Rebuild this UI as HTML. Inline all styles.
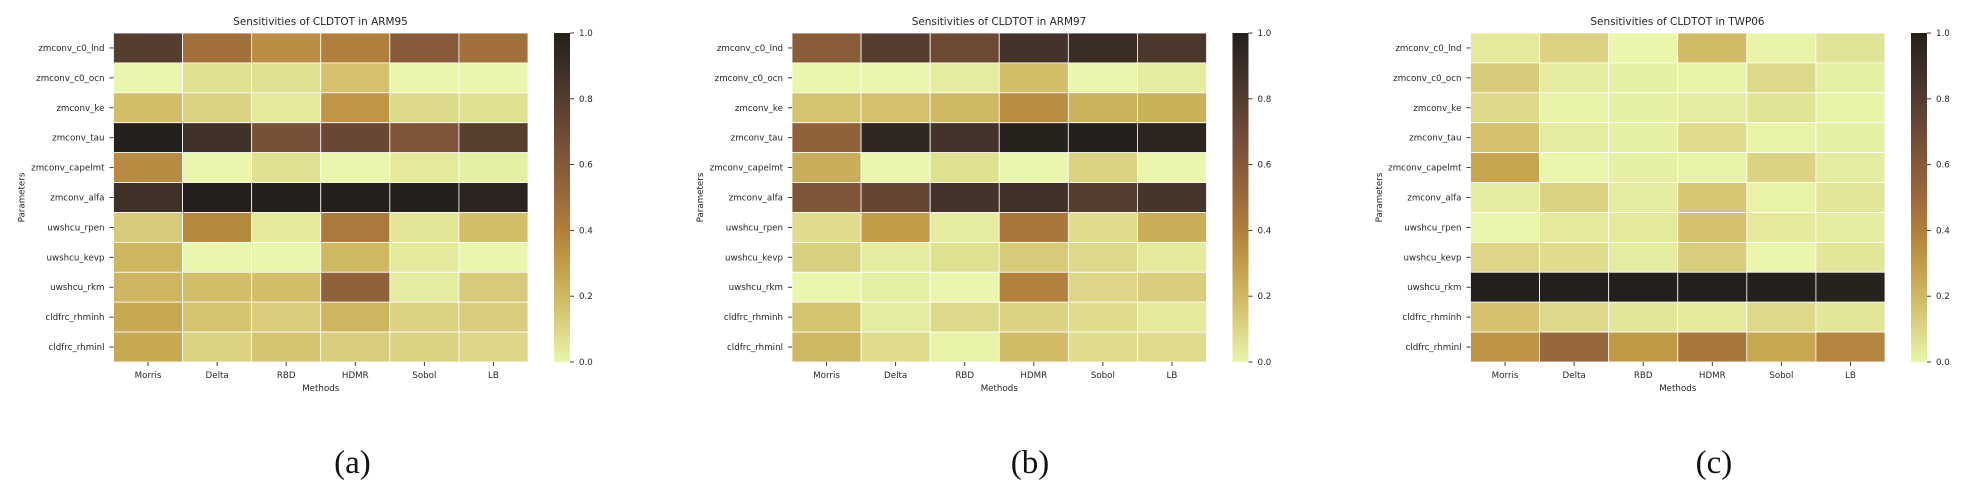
<!DOCTYPE html>
<html lang="en">
<head>
<meta charset="utf-8">
<title>Sensitivities of CLDTOT</title>
<style>
html,body{margin:0;padding:0;background:#fff;width:1968px;height:498px;overflow:hidden}
svg{display:block}
text{font-family:"DejaVu Sans","Liberation Sans",sans-serif;fill:#262626}
.tick{font-size:8.7px}
.axis-label{font-size:8.7px}
.title{font-size:10.45px}
.caption{font-family:"Liberation Serif",serif;font-size:33px;fill:#111}
</style>
</head>
<body>
<svg id="figure" xmlns="http://www.w3.org/2000/svg" width="1968" height="498" viewBox="0 0 1968 498">
  <defs id="defs"></defs>
  <rect width="1968" height="498" fill="#ffffff"/>
  <g id="panel-a">
    <text class="title" x="320.5" y="25" text-anchor="middle">Sensitivities of CLDTOT in ARM95</text>
    <text class="caption" x="352.5" y="473" text-anchor="middle">(a)</text>
  </g>
  <g id="panel-b">
    <text class="title" x="999" y="25" text-anchor="middle">Sensitivities of CLDTOT in ARM97</text>
    <text class="caption" x="1030" y="473" text-anchor="middle">(b)</text>
  </g>
  <g id="panel-c">
    <text class="title" x="1677.5" y="25" text-anchor="middle">Sensitivities of CLDTOT in TWP06</text>
    <text class="caption" x="1714" y="473" text-anchor="middle">(c)</text>
  </g>
</svg>
<script>
const methods = ["Morris", "Delta", "RBD", "HDMR", "Sobol", "LB"];
const parameters = ["zmconv_c0_lnd", "zmconv_c0_ocn", "zmconv_ke", "zmconv_tau", "zmconv_capelmt", "zmconv_alfa", "uwshcu_rpen", "uwshcu_kevp", "uwshcu_rkm", "cldfrc_rhminh", "cldfrc_rhminl"];
const colorbarTicks = [0.0, 0.2, 0.4, 0.6, 0.8, 1.0];

const arm95Values = [
  [0.79, 0.47, 0.35, 0.40, 0.59, 0.47],
  [0.00, 0.07, 0.07, 0.17, 0.00, 0.00],
  [0.18, 0.11, 0.04, 0.32, 0.09, 0.07],
  [0.99, 0.87, 0.66, 0.72, 0.63, 0.78],
  [0.36, 0.00, 0.07, 0.00, 0.04, 0.02],
  [0.88, 1.00, 1.00, 1.00, 1.00, 0.96],
  [0.14, 0.37, 0.04, 0.43, 0.05, 0.18],
  [0.21, 0.00, 0.00, 0.20, 0.04, 0.00],
  [0.21, 0.18, 0.18, 0.55, 0.03, 0.14],
  [0.26, 0.16, 0.13, 0.21, 0.11, 0.13],
  [0.26, 0.11, 0.16, 0.13, 0.11, 0.10]
];
const arm97Values = [
  [0.58, 0.79, 0.70, 0.86, 0.90, 0.83],
  [0.00, 0.00, 0.03, 0.18, 0.00, 0.03],
  [0.16, 0.17, 0.20, 0.35, 0.22, 0.23],
  [0.55, 0.94, 0.86, 0.98, 1.00, 0.96],
  [0.24, 0.00, 0.07, 0.00, 0.11, 0.00],
  [0.62, 0.73, 0.86, 0.88, 0.79, 0.85],
  [0.08, 0.30, 0.03, 0.44, 0.08, 0.24],
  [0.12, 0.03, 0.07, 0.14, 0.09, 0.04],
  [0.00, 0.02, 0.00, 0.39, 0.10, 0.13],
  [0.16, 0.03, 0.09, 0.11, 0.08, 0.04],
  [0.20, 0.08, 0.01, 0.19, 0.08, 0.08]
];
const twp06Values = [
  [0.04, 0.11, 0.00, 0.19, 0.01, 0.06],
  [0.14, 0.03, 0.02, 0.01, 0.09, 0.02],
  [0.09, 0.01, 0.02, 0.03, 0.06, 0.01],
  [0.17, 0.03, 0.02, 0.08, 0.01, 0.02],
  [0.27, 0.00, 0.02, 0.01, 0.11, 0.03],
  [0.03, 0.11, 0.03, 0.15, 0.01, 0.05],
  [0.00, 0.04, 0.04, 0.17, 0.04, 0.03],
  [0.10, 0.08, 0.03, 0.13, 0.00, 0.05],
  [1.00, 1.00, 1.00, 1.00, 1.00, 0.98],
  [0.17, 0.09, 0.05, 0.04, 0.09, 0.05],
  [0.33, 0.52, 0.31, 0.44, 0.26, 0.38]
];

const colormap = ["#e9f6ab", "#dcd686", "#cfb862", "#c29c48", "#b07f3c", "#9b6a3b", "#85593a", "#6d4a36", "#523c2f", "#3a2d26", "#231f1a"];

const SVG_NS = "http://www.w3.org/2000/svg";
const heatTop = 33;
const heatHeight = 329;
const heatWidth = 414.5;

function hexToRgb(hex) {
  return [1, 3, 5].map(function (i) { return parseInt(hex.substr(i, 2), 16); });
}
function colorFor(value) {
  const v = Math.max(0, Math.min(1, value));
  const pos = v * (colormap.length - 1);
  const lo = Math.min(Math.floor(pos), colormap.length - 2);
  const t = pos - lo;
  const a = hexToRgb(colormap[lo]);
  const b = hexToRgb(colormap[lo + 1]);
  return "rgb(" + a.map(function (c, i) { return Math.round(c + (b[i] - c) * t); }).join(",") + ")";
}
function make(tag, attrs, parent, content) {
  const el = document.createElementNS(SVG_NS, tag);
  Object.keys(attrs).forEach(function (k) { el.setAttribute(k, attrs[k]); });
  if (content !== undefined) el.textContent = content;
  parent.appendChild(el);
  return el;
}

const gradient = make("linearGradient", { id: "colorbar-gradient", x1: 0, y1: 1, x2: 0, y2: 0 }, document.getElementById("defs"));
colormap.forEach(function (c, i) {
  make("stop", { offset: i / (colormap.length - 1), "stop-color": c }, gradient);
});

function drawPanel(groupId, slug, values, left, barLeft, yTitleX) {
  const group = document.getElementById(groupId);
  const xBand = heatWidth / methods.length;
  const yBand = heatHeight / parameters.length;
  const xScale = function (i) { return left + i * xBand; };
  const yScale = function (i) { return heatTop + i * yBand; };
  const barY = function (v) { return heatTop + heatHeight * (1 - v); };

  values.forEach(function (row, r) {
    row.forEach(function (value, c) {
      const cell = make("rect", {
        x: xScale(c), y: yScale(r), width: xBand, height: yBand,
        fill: colorFor(value), stroke: "#ffffff", "stroke-width": 0.8
      }, group);
      
      
    });
  });

  parameters.forEach(function (name, r) {
    const cy = yScale(r) + yBand / 2;
    const tick = make("line", { x1: left - 4, x2: left, y1: cy, y2: cy, stroke: "#262626", "stroke-width": 0.9 }, group);
    
    
    const label = make("text", { class: "tick", x: left - 9, y: cy + 3, "text-anchor": "end" }, group, name);
    
    
  });

  methods.forEach(function (name, c) {
    const cx = xScale(c) + xBand / 2;
    const tick = make("line", { x1: cx, x2: cx, y1: heatTop + heatHeight, y2: heatTop + heatHeight + 4, stroke: "#262626", "stroke-width": 0.9 }, group);
    
    
    const label = make("text", { class: "tick", x: cx, y: 378, "text-anchor": "middle" }, group, name);
    
    
  });

  const xTitle = make("text", { class: "axis-label", x: left + heatWidth / 2, y: 391, "text-anchor": "middle" }, group, "Methods");
  
  

  const yTitle = make("text", { class: "axis-label", x: 0, y: 0, "text-anchor": "middle", transform: "translate(" + yTitleX + "," + (heatTop + heatHeight / 2) + ") rotate(-90)" }, group, "Parameters");
  
  

  const bar = make("rect", { x: barLeft, y: heatTop, width: 16, height: heatHeight, fill: "url(#colorbar-gradient)" }, group);
  
  

  colorbarTicks.forEach(function (v) {
    const ty = barY(v);
    const tick = make("line", { x1: barLeft + 16, x2: barLeft + 20, y1: ty, y2: ty, stroke: "#262626", "stroke-width": 0.9 }, group);
    
    
    const label = make("text", { class: "tick", x: barLeft + 25, y: ty + 3, "text-anchor": "start" }, group, v.toFixed(1));
    
    
  });
}

drawPanel("panel-a", "arm95", arm95Values, 113.5, 554, 24.5);
drawPanel("panel-b", "arm97", arm97Values, 792, 1232.5, 703);
drawPanel("panel-c", "twp06", twp06Values, 1470.5, 1911, 1382);
</script>
</body>
</html>
